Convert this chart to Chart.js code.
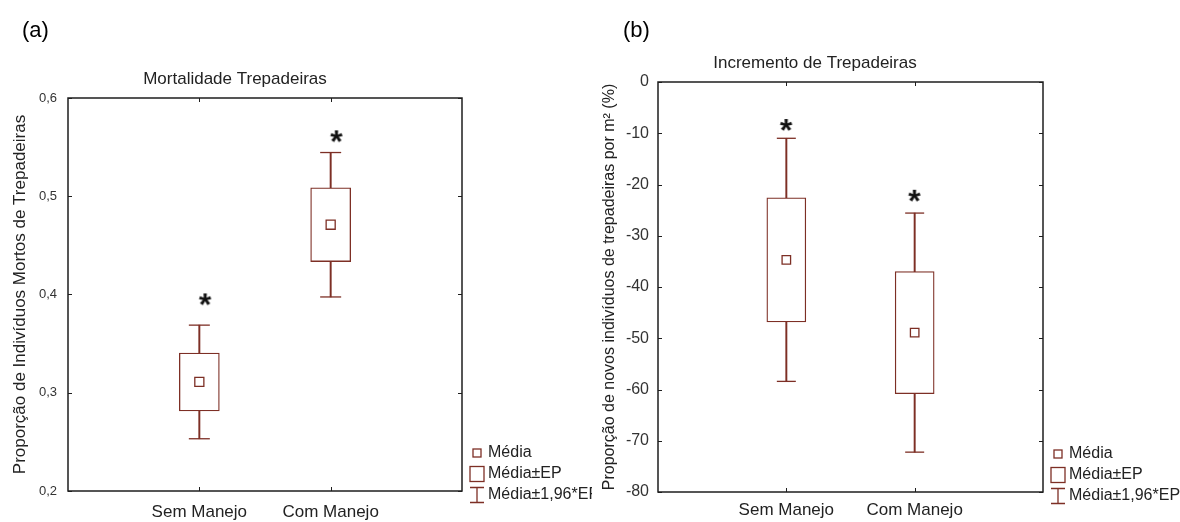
<!DOCTYPE html>
<html lang="pt-BR">
<head>
<meta charset="UTF-8">
<title>Trepadeiras</title>
<script src="https://cdn.jsdelivr.net/npm/chart.js"></script>
<style>
  body { margin: 0; background: #fff; width: 1180px; height: 522px; overflow: hidden; position: relative; }
  .painel { position: absolute; top: 0; height: 522px; }
</style>
</head>
<body>

<div class="painel" style="left:0;width:592px"><canvas id="graficoA" width="592" height="522"></canvas></div>
<div class="painel" style="left:580px;width:600px"><canvas id="graficoB" width="600" height="522"></canvas></div>

<script>
const categorias = ['Sem Manejo', 'Com Manejo'];

// (a) mortalidade: média e erro padrão por tratamento
const mortMedia = [0.311, 0.471];
const mortEP = [0.0295, 0.0375];
const mortAsterisco = [0.395, 0.561];
const mortTicks = [0.2, 0.3, 0.4, 0.5, 0.6];

// (b) incremento (%): média e erro padrão
const incMedia = [-34.7, -48.9];
const incEP = [12.1, 11.9];
const incAsterisco = [-8.4, -22.2];
const incTicks = [-80, -70, -60, -50, -40, -30, -20, -10, 0];

const legendaTextos = ['Média', 'Média±EP', 'Média±1,96*EP'];

const marrom = '#7d2f25';
const fonte = "'Liberation Sans', Arial, sans-serif";

// asterisco de significância como imagem para o pointStyle
function asterisco(dx) {
    const c = document.createElement('canvas');
    c.width = 40; c.height = 30;
    const g = c.getContext('2d');
    g.font = 'bold 32px ' + fonte;
    const m = g.measureText('*');
    const x = 20 + dx - (m.actualBoundingBoxRight - m.actualBoundingBoxLeft) / 2;
    const y = 15 + (m.actualBoundingBoxAscent - m.actualBoundingBoxDescent) / 2;
    g.fillStyle = '#111';
    g.fillText('*', x, y);
    return c;
}

// moldura, marcas internas, título, letra do painel e legenda
const quadro = {
    id: 'quadro',
    afterDraw(chart, args, o) {
        const { ctx, chartArea: a, scales } = chart;
        ctx.save();
        ctx.strokeStyle = '#1e1e1e';
        ctx.lineWidth = 1.5;
        ctx.strokeRect(a.left, a.top, a.width, a.height);

        ctx.lineWidth = 1;
        ctx.beginPath();
        scales.y.ticks.forEach(t => {
            const py = Math.round(scales.y.getPixelForValue(t.value)) + 0.5;
            ctx.moveTo(a.left, py); ctx.lineTo(a.left + 4, py);
            ctx.moveTo(a.right, py); ctx.lineTo(a.right - 4, py);
        });
        scales.x.ticks.forEach(t => {
            const px = Math.round(scales.x.getPixelForValue(t.value)) + 0.5;
            ctx.moveTo(px, a.top); ctx.lineTo(px, a.top + 4);
            ctx.moveTo(px, a.bottom); ctx.lineTo(px, a.bottom - 4);
        });
        ctx.stroke();

        ctx.fillStyle = '#222';
        ctx.font = '17px ' + fonte;
        ctx.textAlign = 'center';
        ctx.textBaseline = 'alphabetic';
        ctx.fillText(o.titulo, o.tituloX, o.tituloY);

        ctx.fillStyle = '#000';
        ctx.font = '22px ' + fonte;
        ctx.textAlign = 'left';
        ctx.fillText(o.letra, o.letraX, 37);

        // legenda
        const lx = a.right + 15;
        const ly = [a.bottom - 38, a.bottom - 17, a.bottom + 4];
        ctx.strokeStyle = marrom;
        ctx.lineWidth = 1.3;
        ctx.strokeRect(lx - 4, ly[0] - 4, 8, 8);
        ctx.strokeRect(lx - 7, ly[1] - 7.5, 14, 15);
        ctx.beginPath();
        ctx.moveTo(lx - 7, ly[2] - 7.5); ctx.lineTo(lx + 7, ly[2] - 7.5);
        ctx.moveTo(lx, ly[2] - 7.5); ctx.lineTo(lx, ly[2] + 7.5);
        ctx.moveTo(lx - 7, ly[2] + 7.5); ctx.lineTo(lx + 7, ly[2] + 7.5);
        ctx.stroke();
        ctx.fillStyle = '#222';
        ctx.font = '16px ' + fonte;
        ctx.textBaseline = 'middle';
        legendaTextos.forEach((t, i) => ctx.fillText(t, a.right + 26, ly[i]));
        ctx.restore();
    }
};

function montar(id, c) {
    const xs = categorias.map((_, i) => i + 1);
    const caixa = c.media.map((m, i) => ({ x: xs[i], y: [m - c.ep[i], m + c.ep[i]] }));
    const haste = c.media.map((m, i) => ({ x: xs[i], y: [m - 1.96 * c.ep[i], m + 1.96 * c.ep[i]] }));
    const pontas = c.media.flatMap((m, i) => [
        { x: xs[i], y: m - 1.96 * c.ep[i] },
        { x: xs[i], y: m + 1.96 * c.ep[i] }
    ]);
    const medias = c.media.map((m, i) => ({ x: xs[i], y: m }));
    const estrelas = c.asterisco.map((v, i) => ({ x: xs[i], y: v }));

    return new Chart(document.getElementById(id), {
        type: 'bar',
        data: {
            datasets: [
                { type: 'bar', data: haste, backgroundColor: marrom, borderWidth: 0,
                  barThickness: 1.3, grouped: false, order: 5 },
                { type: 'scatter', data: pontas, pointStyle: 'line', pointRadius: c.ponta,
                  pointBorderColor: marrom, pointBorderWidth: 1.3, order: 4 },
                { type: 'bar', data: caixa, backgroundColor: '#fff', borderColor: marrom,
                  borderWidth: 1.3, borderSkipped: false, barThickness: c.largura, grouped: false, order: 3 },
                { type: 'scatter', data: medias, pointStyle: 'rect', pointRadius: c.raioMedia,
                  pointBackgroundColor: '#fff', pointBorderColor: marrom, pointBorderWidth: 1.3, order: 2 },
                { type: 'scatter', data: estrelas, pointStyle: asterisco(c.dxAsterisco), pointRadius: 10, order: 1 }
            ]
        },
        options: {
            responsive: false,
            animation: false,
            events: [],
            layout: { padding: { top: c.topo, right: c.direita, left: 0, bottom: 0 } },
            plugins: {
                legend: { display: false },
                tooltip: { enabled: false },
                quadro: { titulo: c.titulo, tituloX: c.tituloX, tituloY: c.tituloBase, letra: c.letra, letraX: c.letraX }
            },
            scales: {
                x: {
                    type: 'linear', min: 0, max: categorias.length + 1, offset: false,
                    grid: { display: false, drawTicks: false }, border: { display: false },
                    afterBuildTicks: s => { s.ticks = xs.map(v => ({ value: v })); },
                    afterFit: s => { s.height = c.alturaX; },
                    ticks: { callback: v => categorias[v - 1], font: { size: 17, family: fonte },
                             color: '#222', padding: c.padX, maxRotation: 0, autoSkip: false }
                },
                y: {
                    min: c.ticks[0], max: c.ticks[c.ticks.length - 1],
                    grid: { display: false, drawTicks: false }, border: { display: false },
                    afterBuildTicks: s => { s.ticks = c.ticks.map(v => ({ value: v })); },
                    afterFit: s => { s.width = c.larguraY; },
                    ticks: { callback: c.formato, font: { size: c.fonteY, family: fonte },
                             color: '#333', padding: c.padY },
                    title: { display: true, text: c.rotuloY, font: { size: c.fonteRotuloY, family: fonte },
                             color: '#222', padding: { top: c.padRotuloY, bottom: 0 } }
                }
            }
        },
        plugins: [quadro]
    });
}

montar('graficoA', {
    media: mortMedia, ep: mortEP, asterisco: mortAsterisco, ticks: mortTicks,
    formato: v => v.toFixed(1).replace('.', ','),
    titulo: 'Mortalidade Trepadeiras', tituloX: 235, tituloBase: 84,
    rotuloY: 'Proporção de Indivíduos Mortos de Trepadeiras', padRotuloY: 10, fonteRotuloY: 17,
    letra: '(a)', letraX: 22,
    topo: 98, direita: 130, larguraY: 68, alturaX: 31, padX: 11, padY: 11, fonteY: 13,
    ponta: 10.5, largura: 40, raioMedia: 6.4, dxAsterisco: 6
});

montar('graficoB', {
    media: incMedia, ep: incEP, asterisco: incAsterisco, ticks: incTicks,
    formato: v => String(v),
    titulo: 'Incremento de Trepadeiras', tituloX: 235, tituloBase: 68,
    rotuloY: 'Proporção de novos indivíduos de trepadeiras por m² (%)', padRotuloY: 20, fonteRotuloY: 16,
    letra: '(b)', letraX: 43,
    topo: 82, direita: 137, larguraY: 78, alturaX: 30, padX: 8, padY: 9, fonteY: 16,
    ponta: 9.5, largura: 39, raioMedia: 6, dxAsterisco: 0
});
</script>
</body>
</html>
